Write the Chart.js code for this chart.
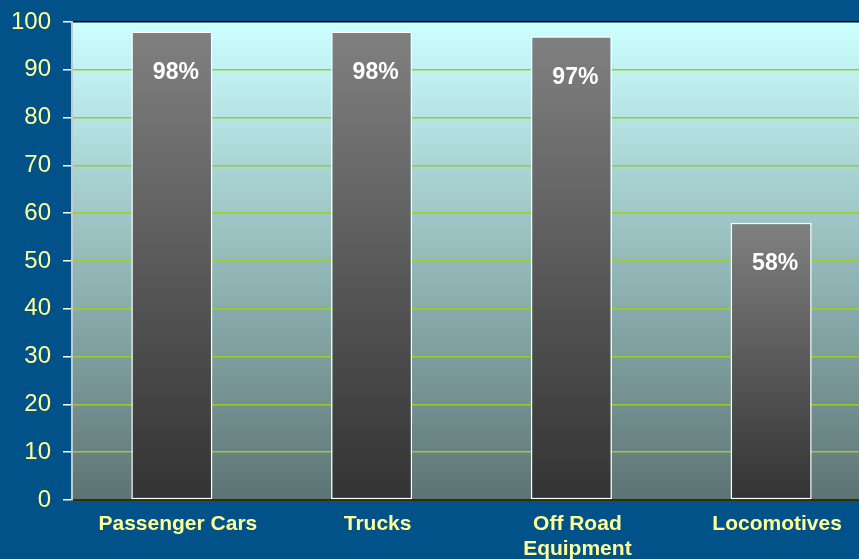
<!DOCTYPE html>
<html>
<head>
<meta charset="utf-8">
<script src="https://cdn.jsdelivr.net/npm/chart.js@4/dist/chart.umd.min.js"></script>
<style>
  html, body { margin: 0; padding: 0; background: #005288; overflow: hidden; }
  #wrap { width: 871px; height: 559px; }
</style>
</head>
<body>
<div id="wrap"><canvas id="chart" width="871" height="559"></canvas></div>
<script>
const categories = ['Passenger Cars', 'Trucks', ['Off Road', 'Equipment'], 'Locomotives']
const shares = [98, 98, 97, 58]
const barLabels = ['98%', '98%', '97%', '58%']
const yTicks = [0, 10, 20, 30, 40, 50, 60, 70, 80, 90, 100]

const yellow = '#ffff99'

// plot area background, light cyan fading to grey-teal
const plotBg = {
    id: 'plotBg',
    beforeDraw(chart) {
        const a = chart.chartArea
        const ctx = chart.ctx
        const g = ctx.createLinearGradient(0, a.top, 0, a.bottom)
        g.addColorStop(0, '#ccffff')
        g.addColorStop(1, '#5d7373')
        ctx.save()
        ctx.fillStyle = g
        ctx.fillRect(a.left, a.top, a.right - a.left, a.bottom - a.top)
        ctx.restore()
    }
}

// percentage text inside each bar
const valueText = {
    id: 'valueText',
    afterDatasetsDraw(chart) {
        const ctx = chart.ctx
        const meta = chart.getDatasetMeta(0)
        ctx.save()
        ctx.fillStyle = '#ffffff'
        ctx.font = 'bold 23px "Liberation Sans", Arial, sans-serif'
        ctx.textAlign = 'center'
        ctx.textBaseline = 'middle'
        meta.data.forEach((bar, i) => {
            ctx.fillText(barLabels[i], bar.x + 4, bar.y + 41)
        })
        ctx.restore()
    }
}

function barFill(context) {
    const chart = context.chart
    if (!chart.chartArea) return '#666666'
    const y = chart.scales.y
    const top = y.getPixelForValue(context.raw)
    const bottom = y.getPixelForValue(0)
    const g = chart.ctx.createLinearGradient(0, top, 0, bottom)
    g.addColorStop(0, '#808080')
    g.addColorStop(1, '#333333')
    return g
}

new Chart(document.getElementById('chart'), {
    type: 'bar',
    data: {
        labels: categories,
        datasets: [{
            data: shares,
            backgroundColor: barFill,
            borderColor: '#ffffff',
            borderWidth: 1.5,
            borderSkipped: false,
            barPercentage: 0.406,
            categoryPercentage: 1
        }]
    },
    options: {
        responsive: false,
        animation: false,
        layout: { padding: { top: 22, right: 0, bottom: 0, left: 0 } },
        plugins: {
            legend: { display: false },
            tooltip: { enabled: false }
        },
        scales: {
            x: {
                grid: { display: false },
                border: { display: true, color: '#2b3300', width: 2 },
                ticks: {
                    color: yellow,
                    font: { family: '"Liberation Sans", Arial, sans-serif', size: 21, weight: 'bold', lineHeight: 1.22 },
                    padding: 3,
                    labelOffset: 6,
                    maxRotation: 0,
                    autoSkip: false
                },
                afterFit(scale) { scale.height = 59 }
            },
            y: {
                min: 0,
                max: 100,
                afterBuildTicks(scale) { scale.ticks = yTicks.map(v => ({ value: v })) },
                grid: {
                    color: (c) => c.tick.value === 100 ? '#000000' : (c.tick.value === 0 ? '#2b3300' : '#99cc33'),
                    lineWidth: 1.5,
                    tickLength: 9,
                    tickColor: '#ffffff',
                    tickWidth: 1.5
                },
                border: { display: true, color: '#c8c8c8', width: 2 },
                ticks: {
                    color: yellow,
                    font: { family: '"Liberation Sans", Arial, sans-serif', size: 24 },
                    padding: 12
                },
                afterFit(scale) {
                    scale.width = 72
                    scale.paddingTop = 0
                    scale.paddingBottom = 0
                }
            }
        }
    },
    plugins: [plotBg, valueText]
})
</script>
</body>
</html>
